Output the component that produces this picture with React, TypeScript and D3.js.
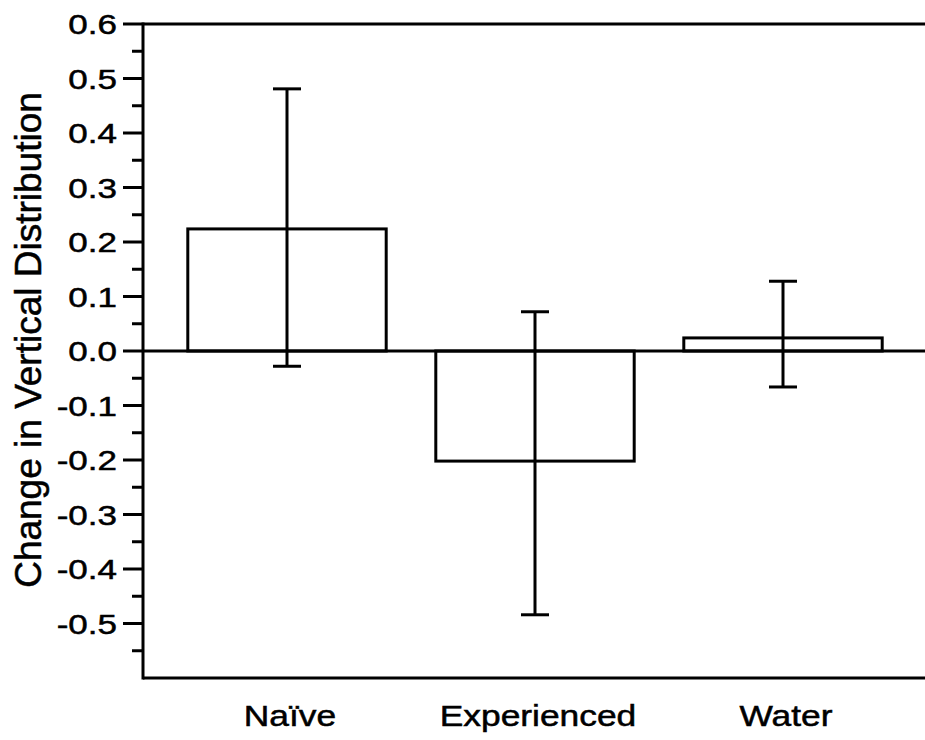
import React from "react";
import * as d3 from "d3";

const categories = ["Naïve", "Experienced", "Water"];
const means = [0.224, -0.202, 0.024];
const errHigh = [0.481, 0.072, 0.128];
const errLow = [-0.028, -0.484, -0.066];
const majorTicks = [-0.5, -0.4, -0.3, -0.2, -0.1, 0.0, 0.1, 0.2, 0.3, 0.4, 0.5, 0.6];
const minorTicks = [-0.55, -0.45, -0.35, -0.25, -0.15, -0.05, 0.05, 0.15, 0.25, 0.35, 0.45, 0.55];
const yTitle = "Change in Vertical Distribution";

const W = 925;
const H = 740;
const axisX = 143;
const rightX = 925;
const SW = 3;
const FONT = "'Liberation Sans', Arial, Helvetica, sans-serif";
const TEXT_STROKE = 0.5;

export default function App() {
  const y = d3.scaleLinear().domain([-0.6, 0.6]).range([678, 24]);
  const x = d3
    .scaleBand<string>()
    .domain(categories)
    .range([163, 907])
    .paddingInner(0.2)
    .paddingOuter(0.1);
  const bw = x.bandwidth();
  const capW = 28;
  const fmt = (t: number) => d3.format(".1f")(t).replace("\u2212", "-");

  return (
    <svg
      width={W}
      height={H}
      style={{ position: "absolute", left: 0, top: 0, background: "#fff" }}
    >
      {/* frame lines */}
      <line x1={axisX} x2={rightX} y1={y(0.6)} y2={y(0.6)} stroke="#000" strokeWidth={SW} />
      <line x1={axisX} x2={rightX} y1={y(-0.6)} y2={y(-0.6)} stroke="#000" strokeWidth={SW} />
      <line x1={axisX} x2={axisX} y1={y(0.6) - SW / 2} y2={y(-0.6) + SW / 2} stroke="#000" strokeWidth={SW} />

      {/* bars */}
      {categories.map((c, i) => {
        const x0 = x(c)!;
        const top = y(Math.max(0, means[i]));
        const bot = y(Math.min(0, means[i]));
        return (
          <rect
            key={"bar" + c}
            x={x0}
            y={top}
            width={bw}
            height={bot - top}
            fill="#fff"
            stroke="#000"
            strokeWidth={SW}
          />
        );
      })}

      {/* zero line */}
      <line x1={axisX} x2={rightX} y1={y(0)} y2={y(0)} stroke="#000" strokeWidth={SW} />

      {/* error bars */}
      {categories.map((c, i) => {
        const cx = x(c)! + bw / 2;
        return (
          <g key={"err" + c} stroke="#000" strokeWidth={SW}>
            <line x1={cx} x2={cx} y1={y(errHigh[i])} y2={y(errLow[i])} />
            <line x1={cx - capW / 2} x2={cx + capW / 2} y1={y(errHigh[i])} y2={y(errHigh[i])} />
            <line x1={cx - capW / 2} x2={cx + capW / 2} y1={y(errLow[i])} y2={y(errLow[i])} />
          </g>
        );
      })}

      {/* y ticks */}
      {majorTicks.map((t) => (
        <g key={"maj" + t}>
          <line x1={axisX - 20} x2={axisX} y1={y(t)} y2={y(t)} stroke="#000" strokeWidth={SW} />
          <g transform={`translate(117, ${y(t)}) scale(1.25, 1)`}>
            <text
              textAnchor="end"
              dy="0.36em"
              fontSize={28}
              fontFamily={FONT}
              fill="#000"
              stroke="#000"
              strokeWidth={TEXT_STROKE}
            >
              {fmt(t)}
            </text>
          </g>
        </g>
      ))}
      {minorTicks.map((t) => (
        <line key={"min" + t} x1={axisX - 11} x2={axisX} y1={y(t)} y2={y(t)} stroke="#000" strokeWidth={SW} />
      ))}

      {/* category labels */}
      {categories.map((c) => (
        <g key={"lab" + c} transform={`translate(${x(c)! + bw / 2 + 3}, 726) scale(1.22, 1)`}>
          <text
            textAnchor="middle"
            fontSize={29}
            fontFamily={FONT}
            fill="#000"
            stroke="#000"
            strokeWidth={TEXT_STROKE}
          >
            {c}
          </text>
        </g>
      ))}

      {/* y title */}
      <text
        transform={`translate(41, 340) rotate(-90)`}
        textAnchor="middle"
        fontSize={37}
        fontFamily={FONT}
        fill="#000"
        stroke="#000"
        strokeWidth={TEXT_STROKE}
      >
        {yTitle}
      </text>
    </svg>
  );
}
